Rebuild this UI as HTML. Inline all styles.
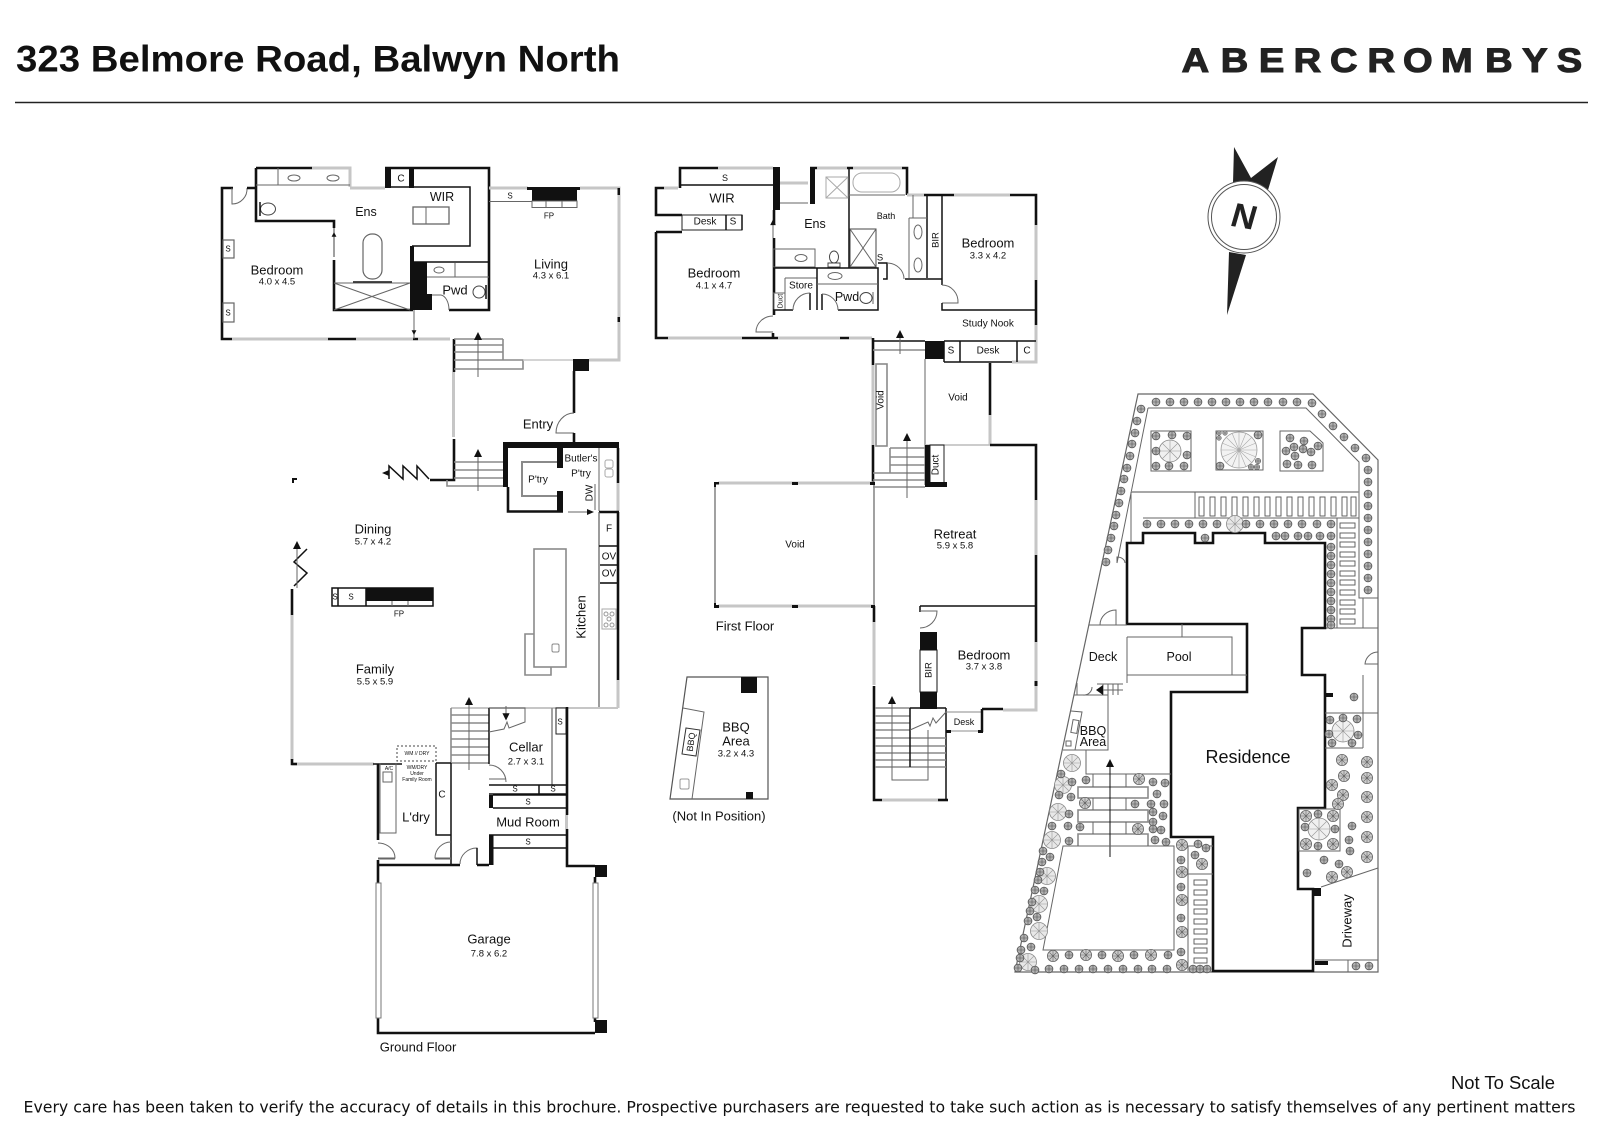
<!DOCTYPE html>
<html><head><meta charset="utf-8"><title>323 Belmore Road, Balwyn North</title>
<style>
html,body{margin:0;padding:0;background:#fff}
svg{display:block}
text{font-family:"Liberation Sans",sans-serif;fill:#111;text-anchor:middle;dominant-baseline:central}
.r{font-size:13px}.d{font-size:9.5px}.m{font-size:12.5px}.s{font-size:10px}.x{font-size:8px}.u{font-size:5px}
.b,.g,.t,.h,.k{fill:none}
.b{stroke:#111;stroke-width:2.6}
.k{stroke:#111;stroke-width:1.5}
.g{stroke:#c6c6c6;stroke-width:3}
.t{stroke:#666;stroke-width:1}
.h{stroke:#8a8a8a;stroke-width:1.6}
.f{fill:#111;stroke:none}
.w{fill:#fff}
</style></head><body>
<svg width="1600" height="1131" viewBox="0 0 1600 1131" xmlns="http://www.w3.org/2000/svg">
<defs>
<g id="s"><circle r="3.9" fill="#b0b0b0" stroke="#555" stroke-width=".8"/><path d="M-3.5 0H3.5M0-3.5V3.5" stroke="#555" stroke-width=".6"/></g>
<g id="a"><circle r="5.6" fill="#ccc" stroke="#666" stroke-width=".8"/><path d="M-5 0H5M0-5V5M-3.5-3.5L3.5 3.5M-3.5 3.5L3.5-3.5" stroke="#666" stroke-width=".6"/></g>
<g id="c"><circle r="8.5" fill="#e8e8e8" stroke="#888" stroke-width=".8"/><path d="M-8 0H8M0-8V8M-6-6L6 6M-6 6L6-6" stroke="#999" stroke-width=".6"/></g>
<g id="e"><circle r="11" fill="#f0f0f0" stroke="#888" stroke-width=".8"/><path d="M-11 0H11M0-11V11M-8-8L8 8M-8 8L8-8" stroke="#999" stroke-width=".6"/></g>
<g id="q"><circle r="18" fill="#f3f3f3" stroke="#999" stroke-width=".8"/><path d="M-18 0H18M0-18V18M-13-13L13 13M-13 13L13-13M-7-17L7 17M7-17L-7 17M-17-7L17 7M17-7L-17 7" stroke="#aaa" stroke-width=".6"/></g>
<path id="au" class="f" d="M0-5L4 3H-4Z"/>
</defs>

<!-- Header -->
<text x="16" y="59" style="text-anchor:start;font-size:37px;font-weight:700" textLength="604" lengthAdjust="spacingAndGlyphs">323 Belmore Road, Balwyn North</text>
<text transform="translate(0,72) scale(1.12,1)" y="0" x="1055 1090 1124 1155 1187.5 1221 1252.7 1286.6 1326 1359 1390" style="text-anchor:start;dominant-baseline:auto;font-size:34px;font-weight:700;fill:#222;stroke:#222;stroke-width:1.1">ABERCROMBYS</text>
<path d="M15 102.5H1588" stroke="#222" stroke-width="1.5"/>

<!-- Compass -->
<path class="f" style="fill:#222" d="M1234 147L1251 178L1278 157L1268 190L1233 183ZM1229 252L1246 255L1227 315Z"/>
<circle cx="1244" cy="217" r="36" fill="#fff" stroke="#555" stroke-width="1"/>
<circle cx="1244" cy="217" r="32.5" fill="#fff" stroke="#555" stroke-width="1"/>
<text transform="translate(1244,217) rotate(10) skewX(-6)" style="font-size:34px;font-weight:700;fill:#222" x="0" y="0">N</text>

<!-- ========= GROUND FLOOR ========= -->
<g>
<path class="b" d="M233 188H222V339H232"/>
<path class="t" d="M232 188V204A15 15 0 0 0 247 188"/>
<path class="b" d="M247 188H256M256 168V221H334V228M256 168H312"/>
<path class="g" d="M312 168H350V187M350 188H385"/>
<path class="t" d="M256 185H350M278 168V185"/>
<ellipse class="t" cx="294" cy="178" rx="6" ry="3"/><ellipse class="t" cx="333" cy="178" rx="6" ry="3"/>
<ellipse cx="268" cy="209" rx="7.5" ry="6" fill="#fff" stroke="#444"/><path class="k" d="M260 202V216"/>
<path class="k" d="M334 228V257" style="stroke-width:.8"/><use href="#au" transform="translate(334 235) scale(.6)"/>
<path class="b" d="M334 260V310H413"/>
<rect class="t" x="363" y="234" width="19" height="45" rx="9" style="stroke-width:1.2"/>
<path class="k" d="M353 282H392"/>
<path class="t" d="M334 283L410 310M334 310L410 283M334 283H410"/>
<rect class="f" x="385" y="168" width="6" height="20"/><rect class="f" x="409" y="168" width="5" height="20"/>
<path class="b" d="M385 168H489V310H449"/>
<path class="k" d="M391 187H410M414 187H470V246H412"/>
<rect class="f" x="410" y="246" width="4" height="18"/><rect class="f" x="410" y="262" width="17" height="48"/>
<path class="k" d="M414 262H489"/>
<path class="t" d="M427 277H489M455 263V277"/>
<ellipse class="t" cx="439" cy="270" rx="5" ry="3"/>
<rect class="f" x="427" y="294" width="5" height="16"/>
<path class="t" d="M432 295H441A9 15 0 0 1 449 310"/>
<ellipse cx="479" cy="292" rx="6" ry="6" fill="#fff" stroke="#444"/><path class="k" d="M486 285V299"/>
<rect class="t" x="413" y="207" width="36" height="17" style="stroke-width:1.3"/><path class="t" d="M426 207V224"/>
<rect x="223" y="240" width="11" height="18" fill="#fff" stroke="#666" stroke-width="1.2"/><rect x="223" y="303" width="11" height="19" fill="#fff" stroke="#666" stroke-width="1.2"/>
<path class="g" d="M232 339H328M356 339H413M418 339H450"/>
<path class="b" d="M328 339H356M413 339H418"/>
<path class="t" d="M414 310V339"/><use href="#au" transform="translate(414 332) rotate(180) scale(.6)"/>
<!-- stairs top -->
<path class="b" d="M454 339V372M454 439V480H430"/>
<path class="g" d="M453.5 372V437"/>
<path class="h" d="M454 345H503M454 352H503M454 360H523V369H454M503 339V360M454 339H503"/>
<path class="t" d="M478 335V377"/><use href="#au" x="478" y="337"/>
<path class="g" d="M523 360H573" style="stroke-width:1.5"/>
<!-- zig -->
<path class="k" d="M429 479L417 466V479L403 466V479L389 466V479M389 473H384"/><path class="f" d="M382 473L389 470V476Z"/>
<!-- living -->
<path class="g" d="M489 188H528M580 188H619V360H589"/>
<path class="f" d="M527 187H580V190H577V201H532V190H527Z"/>
<rect x="532" y="201" width="45" height="6.5" fill="#fff" stroke="#666"/><path class="t" d="M546 201V207M562 201V207M489 201.5H532"/>
<path class="f" d="M617.5 188H620V195H617.5ZM617.5 317H620V322H617.5Z"/>
<rect class="f" x="573" y="359" width="16" height="12"/>
<path class="b" d="M574 371V413"/>
<path class="t" d="M574 413A18 20 0 0 0 556 433H574"/><path class="b" d="M574 433V443"/>
<!-- pantry -->
<path class="f" d="M503 442H619V448H563V468H557V448H508V487H503Z"/>
<path class="b" d="M508 487V511.5H563"/>
<rect class="f" x="557" y="491" width="6" height="21"/>
<path class="h" style="stroke-width:2" d="M557 462H522V496H557"/>
<path class="h" d="M454 462H503M454 470H503M454 478H503M447 480V486H503"/>
<path class="t" d="M478 452V491"/><use href="#au" x="478" y="454"/>
<path class="t" d="M599 448V511M595 484V510"/>
<rect class="t" x="605" y="460" width="8" height="8" rx="2" style="stroke:#aaa"/><rect class="t" x="605" y="469" width="8" height="8" rx="2" style="stroke:#aaa"/>
<path class="t" d="M568 512H592"/><path class="f" d="M594 512L587 509V515Z"/>
<path class="b" d="M618 448V483"/><path class="g" d="M618 483V511"/>
<path class="b" d="M599 512H619"/>
<rect class="f" x="292" y="478" width="5" height="2"/><rect class="f" x="292" y="478" width="2" height="5"/>
<!-- kitchen -->
<path class="b" d="M618 512V680"/><path class="g" d="M618 680V708"/>
<path class="t" style="stroke-width:1.3" d="M599 512V708M600 583H618"/>
<path class="k" d="M599 546H618M600 565H618M600 583H618"/>
<rect x="534" y="549" width="32" height="118" fill="#fff" stroke="#8a8a8a" stroke-width="1.6"/>
<path class="h" d="M534 634H525V675H551V667"/>
<rect x="552" y="644" width="7" height="8" rx="1.5" fill="#fff" stroke="#888"/>
<rect class="t" style="stroke:#aaa" x="602" y="609" width="14" height="20"/><g class="t" style="stroke:#999"><circle cx="606" cy="614" r="2"/><circle cx="612" cy="614" r="2"/><circle cx="609" cy="619" r="2"/><circle cx="606" cy="625" r="2"/><circle cx="612" cy="625" r="2"/></g>
<!-- left zig & wall -->
<path class="k" d="M307 549L294 562L307 573L294 586"/><path class="t" d="M297 545V588"/><use href="#au" x="297" y="546"/>
<path class="b" d="M292 589V615"/><path class="g" d="M292 615V760M292 764H374"/>
<path class="b" d="M292 759V764H297"/>
<!-- FP -->
<rect class="f" x="366" y="588" width="67" height="13"/>
<rect x="332" y="588" width="101" height="18" fill="none" stroke="#111" stroke-width="1.5"/>
<path class="k" d="M338 588V606M366 588V606"/><path class="t" d="M392 601V606M408 601V606"/>
<!-- rear -->
<path class="g" d="M451 708H618" style="stroke-width:2"/>
<path class="h" d="M451 715H489M451 723H489M451 731H489M451 739H489M451 747H489M451 755H489M451 708V763H489"/>
<path class="t" d="M469 703V770"/><use href="#au" x="469" y="702"/>
<path class="k" d="M489 708V764"/>
<path class="t" d="M489 779H506M506 782A17 17 0 0 0 489 765"/>
<path class="t" d="M489 708H525V722L509 728L507 722L504 729L489 732"/>
<path class="t" d="M506 706V716"/><use href="#au" transform="translate(506 716) rotate(180) scale(.9)"/>
<path class="h" d="M552 708V785"/>
<rect x="556" y="708" width="10" height="26" fill="#fff" stroke="#222"/>
<path class="b" d="M567 707V815M567 829V866H595"/><path class="g" d="M566.5 815V829"/>
<path class="k" d="M489 785H566M489 794H566M539 785V794"/>
<rect class="f" x="489" y="795" width="4" height="13"/><path class="k" d="M493 795H566M493 808H566"/>
<path class="k" d="M489 835H566M493 848H566"/>
<rect class="f" x="489" y="835" width="4.5" height="30"/>
<path class="k" d="M451 763V865M436 763V835H451"/><path class="k" d="M436 763H451"/>
<path class="t" d="M451 842A16 16 0 0 0 435 858H451M435 859H451"/>
<path class="b" d="M378 764V840"/>
<path class="k" d="M373 764H402"/>
<path class="t" d="M380 763V833H396V763"/>
<rect class="t" x="383" y="772" width="9" height="10"/>
<rect x="397" y="746" width="39" height="15" fill="none" stroke="#444" stroke-dasharray="2 2"/>
<path class="t" d="M378 843A17 15 0 0 1 395 858H378M378 859H395"/>
<path class="b" d="M378 860V883M378 865H460M477 865H489"/>
<path class="t" d="M460 864A17 16 0 0 1 477 848V864"/><path class="k" d="M477 848V865"/>
<rect class="f" x="595" y="865" width="12" height="12"/>
<path class="b" d="M595 877V883M378 1018V1033H595"/>
<rect class="f" x="595" y="1020" width="12" height="13"/>
<path class="b" d="M595 1018V1022"/>
<rect x="376" y="883" width="5" height="135" fill="#fff" stroke="#777"/>
<rect x="593" y="883" width="5" height="135" fill="#fff" stroke="#777"/>
</g>
<text class="r" x="277" y="270">Bedroom</text><text class="d" x="277" y="282">4.0 x 4.5</text>
<text class="m" x="366" y="212">Ens</text><text class="m" x="442" y="197">WIR</text><text class="s" x="401" y="179">C</text>
<text class="x" x="228" y="249">S</text><text class="x" x="228" y="313">S</text>
<text class="r" x="455" y="290">Pwd</text>
<text class="r" x="551" y="264">Living</text><text class="d" x="551" y="276">4.3 x 6.1</text>
<text class="x" x="510" y="196">S</text><text class="x" x="549" y="216">FP</text>
<text class="r" x="538" y="424">Entry</text>
<text class="s" x="581" y="459">Butler's</text><text class="s" x="581" y="474">P'try</text><text class="s" x="538" y="480">P'try</text>
<text class="s" transform="translate(590,493) rotate(-90)">DW</text>
<text class="s" x="609" y="529">F</text><text class="s" x="609" y="557">OV</text><text class="s" x="609" y="574">OV</text>
<text class="r" x="373" y="529">Dining</text><text class="d" x="373" y="542">5.7 x 4.2</text>
<text class="x" x="335" y="597">S</text><text class="x" x="351" y="597">S</text><text class="x" x="399" y="614">FP</text>
<text class="r" transform="translate(581,617) rotate(-90)">Kitchen</text>
<text class="r" x="375" y="669">Family</text><text class="d" x="375" y="682">5.5 x 5.9</text>
<text class="r" x="526" y="747">Cellar</text><text class="d" x="526" y="762">2.7 x 3.1</text>
<text class="x" x="560" y="722">S</text><text class="x" x="515" y="789">S</text><text class="x" x="553" y="789">S</text><text class="x" x="528" y="802">S</text><text class="x" x="528" y="842">S</text>
<text class="r" x="528" y="822">Mud Room</text>
<text class="s" x="442" y="795">C</text>
<text class="r" x="416" y="817">L'dry</text>
<text class="u" x="389" y="769">A/C</text>
<text class="u" x="417" y="754">WM // DRY</text>
<text class="u" x="417" y="768">WM/DRY</text><text class="u" x="417" y="774">Under</text><text class="u" x="417" y="780">Family Room</text>
<text class="r" x="489" y="939">Garage</text><text class="d" x="489" y="954">7.8 x 6.2</text>
<text class="r" x="418" y="1047">Ground Floor</text>

<!-- ========= FIRST FLOOR ========= -->
<g>
<path class="b" d="M664 188H656V215H682M656 232H682M656 232V338H668"/>
<path class="g" d="M664 188H678"/>
<path class="b" d="M680 188V168H718"/>
<path class="g" d="M718 168H773"/>
<rect class="f" x="773" y="167" width="7" height="43"/>
<path class="k" d="M680 185H773"/>
<rect x="682" y="215" width="60" height="15" fill="#fff" stroke="#222"/><path class="k" d="M726 215V230M742 215V230"/>
<path class="b" d="M774 210V225M774 238V315"/>
<path class="t" d="M773 225V238"/><use href="#au" transform="translate(773 223) scale(.7)"/>
<path class="t" d="M773 316A17 16 0 0 0 756 332H773"/><path class="b" d="M773 333V338"/>
<path class="g" d="M668 338H742M778 338H840M849 338H872"/><path class="b" d="M742 338H778M840 338H849"/>
<path class="g" d="M780 183H808"/><path class="t" d="M780 203H808"/>
<rect class="f" x="810" y="167" width="5" height="37"/>
<path class="b" d="M810 168H817M847 168H853"/><path class="g" d="M817 168H847M853 168H902"/><path class="b" d="M902 168H907V195"/>
<path class="k" d="M849 168V268"/>
<rect class="t" style="stroke:#aaa" x="826" y="177" width="22" height="21"/><path class="t" style="stroke:#aaa" d="M826 177L848 198M826 198L848 177"/>
<rect class="t" style="stroke:#aaa" x="853" y="173" width="47" height="19" rx="9"/>
<path class="t" d="M849 195H905"/>
<path class="g" d="M907 195H924M954 195H1010"/><path class="b" d="M924 195H954M1010 195H1036V225"/>
<path class="g" d="M1036 225V280"/><path class="b" d="M1036 280V325"/><path class="g" d="M1036 325V362H1012"/>
<path class="k" d="M927 195V278M942 195V285"/>
<path class="t" d="M913 195V218M909 218H927M909 218V278"/>
<ellipse class="t" cx="918" cy="232" rx="4" ry="7"/><ellipse class="t" cx="918" cy="265" rx="4" ry="7"/>
<path class="k" d="M905 279H942"/>
<path class="t" d="M942 285A16 17 0 0 1 958 303H942"/>
<path class="k" d="M942 303V310H1036"/>
<rect class="t" x="773" y="249" width="42" height="18"/><ellipse class="t" cx="801" cy="258" rx="6" ry="3.5"/>
<ellipse cx="834" cy="257" rx="4.5" ry="6" fill="#fff" stroke="#444"/><rect class="t" style="stroke:#444" x="828" y="263" width="12" height="4"/>
<path class="k" d="M773 268H878V310H838"/>
<rect class="t" style="stroke:#444" x="850" y="229" width="26" height="38"/><path class="t" d="M850 229L876 267M850 267L876 229"/>
<path class="k" d="M878 263H887V279H883"/>
<path class="t" d="M887 263A17 16 0 0 1 904 279"/>
<path class="t" d="M785 278H817M785 278V293M773 293H785"/><rect x="774" y="293" width="11" height="17" fill="#fff" stroke="#666"/>
<path class="k" d="M773 310H793M817 268V310M810 293V310"/>
<path class="t" d="M793 310A17 17 0 0 1 810 293"/>
<path class="t" d="M817 284H878"/>
<ellipse class="t" cx="835" cy="276" rx="7" ry="3.5"/>
<path class="k" d="M822 294V310"/><path class="t" d="M822 294A16 16 0 0 1 838 310"/>
<ellipse cx="866" cy="298" rx="6" ry="5.5" fill="#fff" stroke="#444"/><path class="t" d="M873 292V304"/>
<!-- landing -->
<path class="b" d="M873 338V365"/><path class="g" d="M873 365V445"/><path class="b" d="M873 445V484"/>
<path class="k" d="M873 341H925"/><path class="h" d="M873 350H925"/>
<path class="t" d="M900 335V354"/><use href="#au" x="900" y="335"/>
<rect class="f" x="925" y="341" width="19" height="18"/>
<path class="k" d="M944 341H1036M944 362H1012M960 341V362M1017 341V362M944 341V362"/>
<path class="t" d="M925 359V485"/>
<rect class="h" x="876" y="364" width="11" height="82"/>
<path class="b" d="M990 363V415"/><path class="g" d="M990 415V445"/>
<path class="h" d="M925 445H990" style="stroke:#bbb"/>
<path class="b" d="M990 445H1036V500"/><path class="g" d="M1036 500V555"/><path class="b" d="M1036 555V642"/><path class="g" d="M1036 642V710H1003"/>
<rect class="f" x="1034.5" y="681" width="3" height="5"/>
<path class="h" d="M890 448H925M890 457H925M890 465H925M873 473H925M873 480H925M873 487H925M890 448V473"/>
<path class="t" d="M907 438V498"/><use href="#au" x="907" y="438"/>
<rect class="t" style="stroke:#222" x="930" y="445" width="14" height="40"/>
<path class="f" d="M925 445H930V482H947V487H925Z"/>
<!-- big void -->
<path class="h" d="M874 484V605M715 485V605"/>
<path class="g" d="M718 483H874M718 606H874"/>
<path class="f" d="M714 482H719V484.5H716V487H714ZM714 603H716V605H719V608H714ZM792 482H798V485H792ZM792 605H798V608H792ZM870 482H875V485H870ZM871 605H875V608H871Z"/>
<path class="b" d="M874 606V622"/><path class="g" d="M874 622V685"/><path class="b" d="M874 686V800H882"/>
<path class="g" d="M882 800H938"/><path class="b" d="M938 800H948"/>
<path class="k" d="M920 606H1036M920 606V612"/>
<path class="t" d="M920 611H937A17 17 0 0 1 920 628"/>
<rect class="f" x="920" y="632" width="17" height="18"/><rect class="f" x="920" y="692" width="17" height="17"/>
<rect x="920" y="650" width="17" height="42" fill="#fff" stroke="#111"/>
<path class="k" d="M910 708H946M946 708V800"/>
<path class="h" d="M875 716H910M875 723H910M875 730H910M875 738H946M875 746H946M875 753H946M875 760H946M875 767H946M875 708H910"/>
<path class="k" d="M910 708V767"/>
<path class="t" d="M910 730L928 722L930 726L933 718L936 723L946 712"/>
<path class="t" d="M892 700V780H928V730"/><use href="#au" x="892" y="701"/>
<path class="t" d="M946 712H982M946 731H982" style="stroke:#888"/>
<path class="g" d="M948 731H981" style="stroke-width:2"/>
<path class="k" d="M982 709V732" style="stroke-width:2.5"/><path class="f" d="M946 730H951V733H946ZM978 730H983V733H978Z"/>
<path class="b" d="M982 709H1003"/>
<!-- BBQ -->
<path d="M687 677H768V799H670Z" fill="none" stroke="#555" stroke-width="1.2"/>
<rect class="f" x="741" y="677" width="16" height="16"/><rect class="f" x="746" y="792" width="7" height="7"/>
<path class="t" d="M683 708L704 712L692 799"/>
<path d="M686 728L700 730L696 756L682 754Z" fill="#fff" stroke="#333"/>
<rect class="t" style="stroke:#999" x="680" y="779" width="9" height="10" rx="1.5"/>
</g>
<text class="x" x="725" y="178" style="font-size:9px">S</text><text class="r" x="722" y="198">WIR</text>
<text class="s" x="705" y="222">Desk</text><text class="s" x="733" y="222">S</text>
<text class="r" x="714" y="273">Bedroom</text><text class="d" x="714" y="286">4.1 x 4.7</text>
<text class="m" x="815" y="224">Ens</text><text class="x" x="886" y="216" style="font-size:9px">Bath</text>
<text class="x" x="880" y="258" style="font-size:9.5px">S</text>
<text class="x" transform="translate(936,240) rotate(-90)" style="font-size:9.5px">BIR</text>
<text class="r" x="988" y="243">Bedroom</text><text class="d" x="988" y="256">3.3 x 4.2</text>
<text class="s" x="801" y="286">Store</text><text class="u" transform="translate(781,301) rotate(-90)" style="font-size:7px">Duct</text>
<text class="m" x="847" y="297">Pwd</text>
<text class="s" x="988" y="324">Study Nook</text>
<text class="s" x="951" y="351">S</text><text class="s" x="988" y="351">Desk</text><text class="s" x="1027" y="351">C</text>
<text class="s" transform="translate(881,400) rotate(-90)">Void</text><text class="s" x="958" y="398">Void</text>
<text class="s" transform="translate(936,465) rotate(-90)">Duct</text>
<text class="s" x="795" y="545">Void</text>
<text class="r" x="955" y="534">Retreat</text><text class="d" x="955" y="546">5.9 x 5.8</text>
<text class="r" x="745" y="626">First Floor</text>
<text class="r" x="984" y="655">Bedroom</text><text class="d" x="984" y="667">3.7 x 3.8</text>
<text class="x" transform="translate(929,670) rotate(-90)" style="font-size:9.5px">BIR</text>
<text class="x" x="964" y="722" style="font-size:9px">Desk</text>
<text class="r" x="736" y="727">BBQ</text><text class="r" x="736" y="741">Area</text><text class="d" x="736" y="754">3.2 x 4.3</text>
<text class="x" transform="translate(691,742) rotate(-82)" style="font-size:9px">BBQ</text>
<text class="r" x="719" y="816">(Not In Position)</text>

<!-- ========= SITE PLAN ========= -->
<g>
<path d="M1138 394H1313L1378 460V972H1015Z" fill="none" stroke="#666" stroke-width="1.2"/>
<path class="t" d="M1148 408H1306L1359 462V598H1378M1148 408L1117 563"/>
<path class="h" d="M1131 492H1359"/><path class="t" d="M1131 492V543M1195 492V518M1143 518H1359"/>
<g fill="none" stroke="#555" stroke-width=".9">
<rect x="1199" y="497" width="5" height="19"/><rect x="1210" y="497" width="5" height="19"/><rect x="1221" y="497" width="5" height="19"/><rect x="1232" y="497" width="5" height="19"/><rect x="1243" y="497" width="5" height="19"/><rect x="1254" y="497" width="5" height="19"/><rect x="1265" y="497" width="5" height="19"/><rect x="1276" y="497" width="5" height="19"/><rect x="1287" y="497" width="5" height="19"/><rect x="1298" y="497" width="5" height="19"/><rect x="1309" y="497" width="5" height="19"/><rect x="1320" y="497" width="5" height="19"/><rect x="1331" y="497" width="5" height="19"/><rect x="1342" y="497" width="5" height="19"/><rect x="1351" y="497" width="5" height="19"/>
<rect x="1340" y="523" width="15" height="5"/><rect x="1340" y="533" width="15" height="5"/><rect x="1340" y="542" width="15" height="5"/><rect x="1340" y="552" width="15" height="5"/><rect x="1340" y="561" width="15" height="5"/><rect x="1340" y="571" width="15" height="5"/><rect x="1340" y="580" width="15" height="5"/><rect x="1340" y="590" width="15" height="5"/><rect x="1340" y="600" width="15" height="5"/><rect x="1340" y="609" width="15" height="5"/><rect x="1340" y="619" width="15" height="5"/>
<rect x="1194" y="880" width="13" height="5"/><rect x="1194" y="890" width="13" height="5"/><rect x="1194" y="900" width="13" height="5"/><rect x="1194" y="909" width="13" height="5"/><rect x="1194" y="919" width="13" height="5"/><rect x="1194" y="929" width="13" height="5"/><rect x="1194" y="939" width="13" height="5"/><rect x="1194" y="948" width="13" height="5"/><rect x="1194" y="958" width="13" height="5"/>
</g>
<path class="t" d="M1337 518V628M1363 598V628M1325 628H1378"/>
<rect class="t" x="1151" y="431" width="40" height="40"/><rect class="t" x="1216" y="431" width="47" height="39"/>
<path class="t" d="M1280 431H1310L1323 443V471H1280Z"/>
<!-- Residence -->
<path d="M1127 543H1143V533H1195V543H1213V533H1265V543H1325V628H1302V675H1325V808H1298V889H1313V971H1213V837H1171V692H1247V624H1127Z" fill="none" stroke="#111" stroke-width="2.6"/>
<path class="t" d="M1127 637H1232V675M1127 675H1247M1182 624V637M1127 637V683"/>
<path class="t" d="M1089 625H1127"/><path class="t" d="M1116 625V610A16 15 0 0 0 1100 625"/>
<path class="t" d="M1117 563V557A8 6 0 0 1 1125 563"/>
<path class="t" d="M1097 684H1123M1097 690H1123M1108 695H1074M1103 684V695M1108 684V695M1113 684V695M1118 684V695"/>
<path class="f" d="M1096 690L1103 685V695Z"/>
<path class="t" d="M1077 683V695M1083 695A8 8 0 0 0 1092 687"/>
<path class="t" d="M1108 695V750H1063M1071 711L1082 712L1075 750M1086 750V774H1171"/>
<rect class="t" x="1072" y="720" width="6" height="13" transform="rotate(10 1075 726)"/><rect class="t" x="1066" y="741" width="5" height="5"/>
<rect x="1078" y="787" width="70" height="11" fill="#fff" stroke="#8a8a8a" stroke-width="1.6"/><rect x="1078" y="810" width="70" height="12" fill="#fff" stroke="#8a8a8a" stroke-width="1.6"/><path class="h" d="M1078 846V834H1148V846"/>
<path class="t" d="M1093 774V787M1126 774V787M1093 798V810M1126 798V810M1093 822V834M1126 822V834"/>
<path class="k" d="M1110 765V857" style="stroke-width:1"/><use href="#au" x="1110" y="764"/>
<path class="t" d="M1063 846H1174V950H1043Z"/>
<path class="t" d="M1188 846H1213M1188 846V971M1188 874H1213"/>
<path class="t" d="M1325 713H1378M1325 748H1363M1363 675V748"/>
<path class="t" d="M1378 652A13 13 0 0 0 1365 664H1378"/>
<path class="f" d="M1325 693H1333V697H1325Z"/>
<rect class="t" x="1299" y="809" width="41" height="42"/>
<path class="t" d="M1321 887L1378 868"/>
<rect class="f" x="1312" y="888" width="9" height="8"/><rect class="f" x="1315" y="961" width="13" height="4"/>
<path class="t" d="M1315 960H1378M1348 960V972"/>
<!-- large trees -->
<use href="#e" x="1170" y="451"/><use href="#q" x="1239" y="450"/><use href="#e" x="1343" y="731"/><use href="#e" x="1319" y="829"/>
<use href="#c" x="1235" y="524"/>
<use href="#c" x="1072" y="763"/><use href="#c" x="1063" y="785"/><use href="#c" x="1058" y="812"/><use href="#c" x="1052" y="840"/><use href="#c" x="1047" y="876"/><use href="#c" x="1039" y="904"/><use href="#c" x="1039" y="931"/><use href="#c" x="1028" y="962"/>
<use href="#a" x="1139" y="779"/><use href="#a" x="1138" y="829"/><use href="#a" x="1182" y="845"/><use href="#a" x="1182" y="872"/><use href="#a" x="1182" y="900"/><use href="#a" x="1182" y="932"/><use href="#a" x="1182" y="965"/><use href="#a" x="1202" y="864"/><use href="#a" x="1085" y="803"/>
<use href="#a" x="1053" y="956"/><use href="#a" x="1086" y="955"/><use href="#a" x="1118" y="956"/><use href="#a" x="1151" y="955"/>
<use href="#a" x="1342" y="760"/><use href="#a" x="1367" y="762"/><use href="#a" x="1344" y="776"/><use href="#a" x="1367" y="778"/><use href="#a" x="1332" y="785"/><use href="#a" x="1343" y="795"/><use href="#a" x="1367" y="797"/><use href="#a" x="1338" y="804"/><use href="#a" x="1367" y="817"/><use href="#a" x="1367" y="837"/><use href="#a" x="1367" y="857"/><use href="#a" x="1347" y="872"/><use href="#a" x="1332" y="877"/>
<use href="#a" x="1306" y="816"/><use href="#a" x="1333" y="816"/><use href="#a" x="1306" y="844"/><use href="#a" x="1333" y="844"/>
<!-- hedges -->
<use href="#s" x="1156" y="402"/><use href="#s" x="1170" y="402"/><use href="#s" x="1184" y="402"/><use href="#s" x="1198" y="402"/><use href="#s" x="1212" y="402"/><use href="#s" x="1226" y="402"/><use href="#s" x="1240" y="402"/><use href="#s" x="1254" y="402"/><use href="#s" x="1268" y="402"/><use href="#s" x="1283" y="402"/><use href="#s" x="1297" y="402"/>
<use href="#s" x="1312" y="403"/><use href="#s" x="1322" y="414"/><use href="#s" x="1333" y="426"/><use href="#s" x="1344" y="437"/><use href="#s" x="1355" y="448"/><use href="#s" x="1366" y="458"/>
<use href="#s" x="1368" y="470"/><use href="#s" x="1368" y="482"/><use href="#s" x="1368" y="494"/><use href="#s" x="1368" y="506"/><use href="#s" x="1368" y="518"/><use href="#s" x="1368" y="530"/><use href="#s" x="1368" y="542"/><use href="#s" x="1368" y="554"/><use href="#s" x="1368" y="566"/><use href="#s" x="1368" y="578"/><use href="#s" x="1368" y="590"/>
<use href="#s" x="1141" y="409"/><use href="#s" x="1137" y="421"/><use href="#s" x="1135" y="433"/><use href="#s" x="1132" y="444"/><use href="#s" x="1130" y="456"/><use href="#s" x="1127" y="468"/><use href="#s" x="1124" y="479"/><use href="#s" x="1121" y="491"/><use href="#s" x="1119" y="503"/><use href="#s" x="1116" y="515"/><use href="#s" x="1114" y="526"/><use href="#s" x="1111" y="538"/><use href="#s" x="1108" y="550"/><use href="#s" x="1106" y="562"/>
<use href="#s" x="1147" y="524"/><use href="#s" x="1161" y="524"/><use href="#s" x="1175" y="524"/><use href="#s" x="1189" y="524"/><use href="#s" x="1203" y="524"/><use href="#s" x="1217" y="524"/><use href="#s" x="1246" y="524"/><use href="#s" x="1260" y="524"/><use href="#s" x="1274" y="524"/><use href="#s" x="1288" y="524"/><use href="#s" x="1302" y="524"/><use href="#s" x="1317" y="524"/><use href="#s" x="1331" y="524"/>
<use href="#s" x="1276" y="536"/><use href="#s" x="1285" y="536"/><use href="#s" x="1298" y="536"/><use href="#s" x="1308" y="536"/><use href="#s" x="1320" y="536"/><use href="#s" x="1331" y="536"/><use href="#s" x="1205" y="538"/>
<use href="#s" x="1331" y="547"/><use href="#s" x="1331" y="556"/><use href="#s" x="1331" y="565"/><use href="#s" x="1331" y="574"/><use href="#s" x="1331" y="583"/><use href="#s" x="1331" y="592"/><use href="#s" x="1331" y="601"/><use href="#s" x="1331" y="610"/><use href="#s" x="1331" y="619"/><use href="#s" x="1331" y="625"/>
<!-- planters -->
<use href="#s" x="1156" y="436"/><use href="#s" x="1172" y="435"/><use href="#s" x="1187" y="436"/><use href="#s" x="1156" y="451"/><use href="#s" x="1187" y="455"/><use href="#s" x="1156" y="466"/><use href="#s" x="1169" y="466"/><use href="#s" x="1184" y="466"/>
<use href="#s" transform="translate(1219 433) scale(.6)"/><use href="#s" transform="translate(1225 433) scale(.6)"/><use href="#s" transform="translate(1219 438) scale(.6)"/><use href="#s" x="1258" y="435"/><use href="#s" x="1220" y="466"/><use href="#s" transform="translate(1251 467) scale(.7)"/><use href="#s" transform="translate(1257 467) scale(.7)"/><use href="#s" transform="translate(1258 461) scale(.7)"/>
<use href="#s" x="1290" y="438"/><use href="#s" x="1304" y="441"/><use href="#s" x="1294" y="447"/><use href="#s" x="1286" y="451"/><use href="#s" x="1303" y="449"/><use href="#s" x="1311" y="452"/><use href="#s" x="1318" y="446"/><use href="#s" x="1295" y="456"/><use href="#s" x="1287" y="464"/><use href="#s" x="1298" y="465"/><use href="#s" x="1312" y="465"/>
<!-- lower left -->
<use href="#s" x="1061" y="774"/><use href="#s" x="1072" y="782"/><use href="#s" x="1059" y="795"/><use href="#s" x="1071" y="797"/><use href="#s" x="1069" y="814"/><use href="#s" x="1052" y="826"/><use href="#s" x="1068" y="826"/><use href="#s" x="1080" y="827"/><use href="#s" x="1069" y="841"/><use href="#s" x="1043" y="851"/><use href="#s" x="1050" y="857"/><use href="#s" x="1042" y="862"/><use href="#s" x="1040" y="872"/><use href="#s" x="1038" y="880"/><use href="#s" x="1035" y="890"/><use href="#s" x="1044" y="891"/><use href="#s" x="1032" y="902"/><use href="#s" x="1030" y="911"/><use href="#s" x="1028" y="921"/><use href="#s" x="1037" y="917"/><use href="#s" x="1024" y="938"/><use href="#s" x="1031" y="947"/><use href="#s" x="1021" y="950"/><use href="#s" x="1020" y="958"/><use href="#s" x="1018" y="968"/>
<use href="#s" x="1035" y="970"/><use href="#s" x="1049" y="969"/><use href="#s" x="1064" y="969"/><use href="#s" x="1079" y="969"/><use href="#s" x="1093" y="969"/><use href="#s" x="1108" y="969"/><use href="#s" x="1123" y="969"/><use href="#s" x="1138" y="969"/><use href="#s" x="1152" y="969"/><use href="#s" x="1167" y="969"/><use href="#s" x="1193" y="969"/><use href="#s" x="1200" y="969"/><use href="#s" x="1207" y="969"/>
<use href="#s" x="1086" y="780"/><use href="#s" x="1153" y="782"/><use href="#s" x="1165" y="783"/><use href="#s" x="1157" y="794"/><use href="#s" x="1135" y="804"/><use href="#s" x="1151" y="804"/><use href="#s" x="1164" y="804"/><use href="#s" x="1153" y="812"/><use href="#s" x="1163" y="816"/><use href="#s" x="1153" y="822"/><use href="#s" x="1153" y="829"/><use href="#s" x="1161" y="830"/><use href="#s" x="1155" y="840"/><use href="#s" x="1166" y="842"/>
<use href="#s" x="1198" y="844"/><use href="#s" x="1206" y="848"/><use href="#s" x="1195" y="855"/><use href="#s" x="1181" y="860"/><use href="#s" x="1181" y="887"/><use href="#s" x="1181" y="918"/><use href="#s" x="1181" y="952"/>
<use href="#s" x="1069" y="955"/><use href="#s" x="1102" y="955"/><use href="#s" x="1134" y="955"/><use href="#s" x="1168" y="955"/>
<!-- lower right -->
<use href="#s" x="1354" y="697"/><use href="#s" x="1330" y="720"/><use href="#s" x="1343" y="718"/><use href="#s" x="1357" y="719"/><use href="#s" x="1329" y="734"/><use href="#s" x="1358" y="735"/><use href="#s" x="1332" y="743"/><use href="#s" x="1352" y="743"/>
<use href="#s" x="1352" y="826"/><use href="#s" x="1349" y="840"/><use href="#s" x="1350" y="851"/><use href="#s" x="1324" y="860"/><use href="#s" x="1339" y="864"/><use href="#s" x="1307" y="873"/>
<use href="#s" x="1318" y="814"/><use href="#s" x="1305" y="827"/><use href="#s" x="1335" y="829"/><use href="#s" x="1318" y="846"/>
<use href="#s" x="1356" y="966"/><use href="#s" x="1369" y="966"/>
</g>
<text class="m" x="1103" y="657">Deck</text><text class="m" x="1179" y="657">Pool</text>
<text class="m" x="1093" y="731">BBQ</text><text class="m" x="1093" y="742">Area</text>
<text x="1248" y="757" style="font-size:18px">Residence</text>
<text class="r" transform="translate(1347,921) rotate(-90)">Driveway</text>

<!-- Footer -->
<text x="1451" y="1083" style="text-anchor:start;font-size:18px" textLength="104" lengthAdjust="spacingAndGlyphs">Not To Scale</text>
<text x="23.5" y="1107" style="text-anchor:start;font-family:'DejaVu Sans',sans-serif;font-size:16px" textLength="1552" lengthAdjust="spacingAndGlyphs">Every care has been taken to verify the accuracy of details in this brochure. Prospective purchasers are requested to take such action as is necessary to satisfy themselves of any pertinent matters</text>
</svg>
</body></html>
